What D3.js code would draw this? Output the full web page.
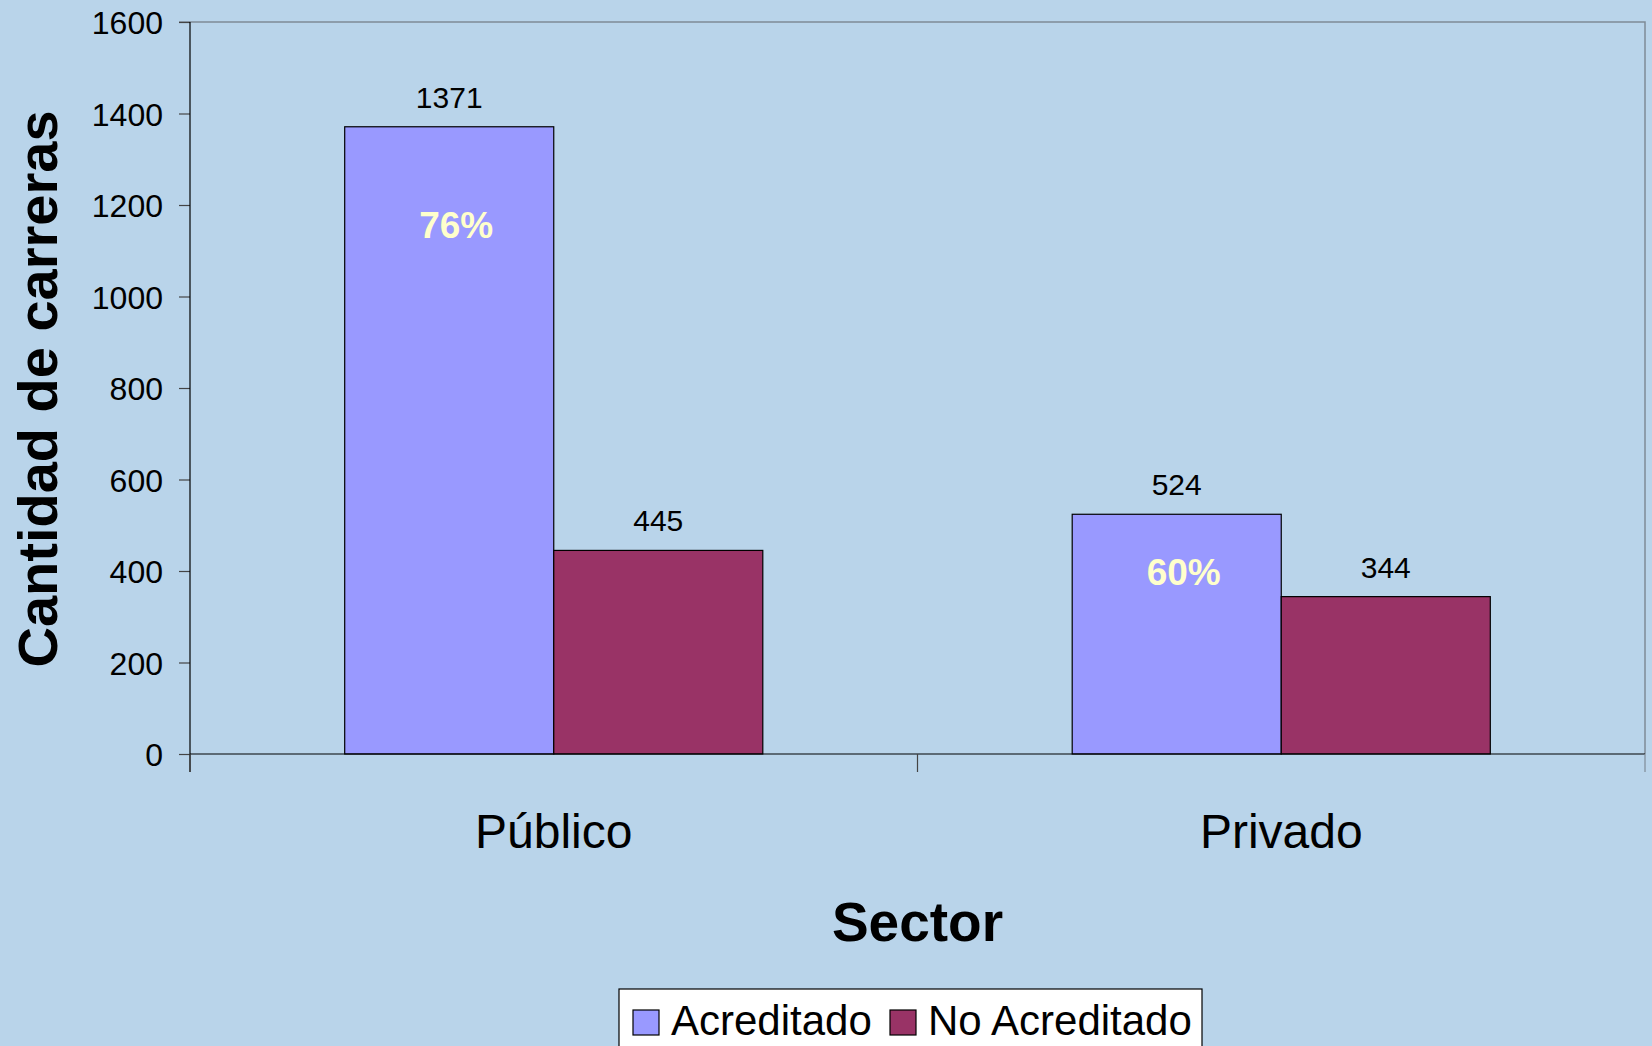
<!DOCTYPE html>
<html>
<head>
<meta charset="utf-8">
<script src="https://cdn.jsdelivr.net/npm/d3@7"></script>
<style>
  body { margin: 0; background: #B9D4EA; }
  svg { display: block; font-family: Arial, "Liberation Sans", sans-serif; }
</style>
</head>
<body>
<svg></svg>
<script>
const sectores = ["Público", "Privado"];
const series = ["Acreditado", "No Acreditado"];
const acreditado = [1371, 524];
const noAcreditado = [445, 344];
const pctLabels = ["76%", "60%"];
const yTicks = [0, 200, 400, 600, 800, 1000, 1200, 1400, 1600];
// where the % labels sit, in data units
const pctAnchor = [1128, 369];

const colores = { "Acreditado": "#9999FF", "No Acreditado": "#993366" };

const data = sectores.map((s, i) => ({
    sector: s,
    valores: [
        { serie: "Acreditado", valor: acreditado[i] },
        { serie: "No Acreditado", valor: noAcreditado[i] }
    ],
    pct: pctLabels[i],
    pctY: pctAnchor[i]
}));

const width = 1652, height = 1046;
const margin = { top: 22, right: 7, bottom: 292, left: 190 };

const svg = d3.select("svg").attr("width", width).attr("height", height);

svg.append("rect").attr("width", width).attr("height", height).attr("fill", "#B9D4EA");

const x = d3.scaleBand()
    .domain(sectores)
    .range([margin.left, width - margin.right])
    .padding(0);

const x1 = d3.scaleBand()
    .domain(series)
    .range([0, x.bandwidth()])
    .paddingInner(0)
    .paddingOuter(0.74);

const y = d3.scaleLinear()
    .domain([0, 1600])
    .range([height - margin.bottom, margin.top]);

// borde superior y derecho del área
svg.append("path")
    .attr("d", `M${margin.left - 11},${y(1600)}H${width - margin.right}V${y(0)}`)
    .attr("fill", "none")
    .attr("stroke", "#7f8a96")
    .attr("stroke-width", 1.5);

// eje Y
const yAxis = svg.append("g")
    .attr("transform", `translate(${margin.left},0)`)
    .call(d3.axisLeft(y).tickValues(yTicks).tickSize(11).tickPadding(16).tickFormat(d3.format("d")));
yAxis.select(".domain").remove();
yAxis.selectAll(".tick line").attr("stroke", "#444").attr("stroke-width", 1.2);
yAxis.selectAll(".tick text").style("font-size", "32px").attr("fill", "#000").attr("dy", "0.36em");
svg.append("line")
    .attr("x1", margin.left).attr("x2", margin.left)
    .attr("y1", y(1600)).attr("y2", y(0) + 18)
    .attr("stroke", "#000").attr("stroke-width", 1.2);

// barras
const grupos = svg.selectAll(".grupo")
    .data(data)
    .enter()
    .append("g")
    .attr("class", "grupo")
    .attr("transform", d => `translate(${x(d.sector)},0)`);

grupos.selectAll("rect")
    .data(d => d.valores)
    .enter()
    .append("rect")
    .attr("x", d => x1(d.serie))
    .attr("y", d => y(d.valor))
    .attr("width", x1.bandwidth())
    .attr("height", d => y(0) - y(d.valor))
    .attr("fill", d => colores[d.serie])
    .attr("stroke", "#000")
    .attr("stroke-width", 1.2);

grupos.selectAll(".valor")
    .data(d => d.valores)
    .enter()
    .append("text")
    .attr("class", "valor")
    .attr("x", d => x1(d.serie) + x1.bandwidth() / 2)
    .attr("y", d => y(d.valor) - 19)
    .attr("text-anchor", "middle")
    .style("font-size", "30px")
    .text(d => d.valor);

grupos.append("text")
    .attr("x", x1("Acreditado") + x1.bandwidth() / 2 + 7)
    .attr("y", d => y(d.pctY))
    .attr("text-anchor", "middle")
    .style("font-size", "37px")
    .style("font-weight", "bold")
    .attr("fill", "#FFFFCC")
    .text(d => d.pct);

// eje X
const xAxis = svg.append("g")
    .attr("transform", `translate(0,${y(0)})`)
    .call(d3.axisBottom(x).tickSize(0));
xAxis.select(".domain").remove();
xAxis.selectAll(".tick text").style("font-size", "48px").attr("fill", "#000").attr("dy", 0).attr("y", 94);

svg.append("line")
    .attr("x1", margin.left).attr("x2", width - margin.right)
    .attr("y1", y(0)).attr("y2", y(0))
    .attr("stroke", "#000").attr("stroke-width", 1.2);

const limites = sectores.map(s => x(s)).concat([x.range()[1]]);
svg.selectAll(".limite")
    .data(limites)
    .enter()
    .append("line")
    .attr("x1", d => d).attr("x2", d => d)
    .attr("y1", y(0)).attr("y2", y(0) + 18)
    .attr("stroke", (d, i) => i === limites.length - 1 ? "#7f8a96" : "#444")
    .attr("stroke-width", 1.2);

// títulos
svg.append("text")
    .attr("transform", `translate(57,${(y(0) + y(1600)) / 2 + 1}) rotate(-90)`)
    .attr("text-anchor", "middle")
    .style("font-size", "56px")
    .style("font-weight", "bold")
    .text("Cantidad de carreras");

svg.append("text")
    .attr("x", (margin.left + width - margin.right) / 2)
    .attr("y", 941)
    .attr("text-anchor", "middle")
    .style("font-size", "55px")
    .style("font-weight", "bold")
    .text("Sector");

// leyenda
const leyenda = svg.append("g");
leyenda.append("rect")
    .attr("x", 619).attr("y", 989)
    .attr("width", 583).attr("height", 80)
    .attr("fill", "#fff")
    .attr("stroke", "#000")
    .attr("stroke-width", 1.2);

const itemX = [633, 890];
series.forEach((s, i) => {
    leyenda.append("rect")
        .attr("x", itemX[i]).attr("y", 1010)
        .attr("width", 26).attr("height", 25)
        .attr("fill", colores[s])
        .attr("stroke", "#000")
        .attr("stroke-width", 1.2);
    leyenda.append("text")
        .attr("x", itemX[i] + 38).attr("y", 1035)
        .style("font-size", "42px")
        .text(s);
});
</script>
</body>
</html>
